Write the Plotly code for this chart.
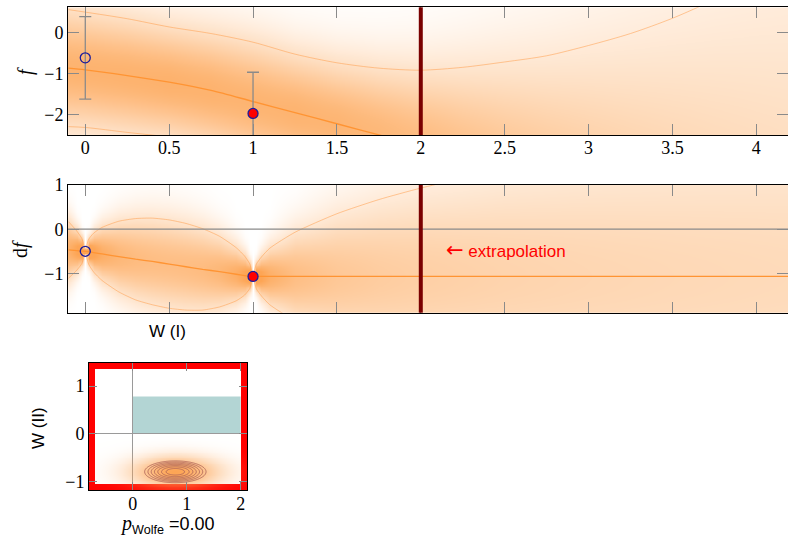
import numpy as np
import plotly.graph_objects as go

W, H = 788, 538

# ---------------- data ----------------
# observations of the line search
obs_t = [0.0, 1.0]
obs_f = [-0.62, -1.97]
obs_f_err = [1.0, 1.0]
obs_df = [-0.50, -1.07]
obs_fill = ["rgba(0,0,0,0)", "red"]
t_candidate = 2.0

# GP posterior on f
f_t = [-0.10, 0.00, 0.25, 0.50, 0.75, 1.00, 1.25, 1.50, 1.75, 2.00, 2.25,
       2.50, 2.75, 3.00, 3.25, 3.50, 3.75, 4.00, 4.20]
f_mean = [-0.87, -0.91, -1.05, -1.21, -1.41, -1.68, -1.95, -2.22, -2.49, -2.76,
          -3.03, -3.30, -3.57, -3.84, -4.11, -4.38, -4.65, -4.92, -5.14]
f_sd = [0.71, 0.70, 0.69, 0.67, 0.69, 0.72, 0.71, 0.74, 0.81, 0.92, 1.09,
        1.29, 1.50, 1.76, 2.04, 2.36, 2.72, 3.10, 3.42]

# GP posterior on df
df_t = [-0.10, -0.05, -0.02, 0.00, 0.02, 0.05, 0.10, 0.20, 0.30, 0.40, 0.50,
        0.60, 0.70, 0.80, 0.90, 0.95, 0.98, 1.00, 1.02, 1.05, 1.10, 1.25,
        1.50, 1.75, 2.00, 2.50, 3.00, 3.50, 4.00, 4.20]
df_mean = [-0.47, -0.485, -0.495, -0.50, -0.51, -0.53, -0.56, -0.62, -0.68,
           -0.73, -0.79, -0.85, -0.91, -0.96, -1.02, -1.05, -1.065, -1.07,
           -1.07, -1.07, -1.07, -1.07, -1.07, -1.07, -1.07, -1.07, -1.07,
           -1.07, -1.07, -1.07]
df_sd = [0.32, 0.22, 0.14, 0.02, 0.14, 0.22, 0.30, 0.40, 0.46, 0.49, 0.50,
         0.49, 0.46, 0.40, 0.30, 0.22, 0.14, 0.02, 0.14, 0.22, 0.32, 0.50,
         0.71, 0.87, 1.00, 1.22, 1.41, 1.58, 1.73, 1.79]

# Wolfe-condition panel
wolfe_a = [0.0, 2.0]          # box of accepted region (a)
wolfe_b = [0.0, 0.78]         # box of accepted region (b)
ab_mean = [0.79, -0.79]
ab_sd = [0.45, 0.18]
p_wolfe = 0.00

# ticks
t_ticks = [0, 0.5, 1, 1.5, 2, 2.5, 3, 3.5, 4]
t_ticktext = ["0", "0.5", "1", "1.5", "2", "2.5", "3", "3.5", "4"]
f_ticks = [-2, -1, 0]
f_ticktext = ["\u22122", "\u22121", "0"]
df_ticks = [-1, 0, 1]
df_ticktext = ["\u22121", "0", "1"]
a_ticks = [0, 1, 2]
a_ticktext = ["0", "1", "2"]
b_ticks = [-1, 0, 1]
b_ticktext = ["\u22121", "0", "1"]

# ---------------- styles ----------------
ORANGE = (253, 165, 85)
MEAN_C = "#ff9433"
BAND_C = "rgba(255,160,80,0.55)"
NAVY = "#1c1c9c"
TICK_C = "#8a8a8a"
SERIF = "Liberation Serif"
SANS = "Liberation Sans"


def px(x):
    return x / W


def py(y):
    return 1 - y / H


def density(mean, sd, ygrid, c, gamma=0.45):
    m = np.asarray(mean)[None, :]
    s = np.asarray(sd)[None, :]
    y = ygrid[:, None]
    d = c * np.exp(-0.5 * ((y - m) / s) ** 2) / s
    return np.clip(d, 0, 1) ** gamma


scale_opaque = [[0, "rgb(255,255,255)"], [1, "rgb(%d,%d,%d)" % ORANGE]]
scale_alpha = [[0, "rgba(%d,%d,%d,0)" % ORANGE], [1, "rgba(%d,%d,%d,1)" % ORANGE]]

fig = go.Figure()

# ---- top panel: f ----
yr1 = [-2.493, 0.607]
yg1 = np.linspace(yr1[0] - 0.1, yr1[1] + 0.1, 260)
fig.add_trace(go.Heatmap(x=f_t, y=yg1, z=density(f_mean, f_sd, yg1, 0.48),
                         colorscale=scale_opaque, zmin=0, zmax=1, zsmooth="best",
                         showscale=False, hoverinfo="skip", xaxis="x", yaxis="y"))
f_hi = np.array(f_mean) + 2 * np.array(f_sd)
f_lo = np.array(f_mean) - 2 * np.array(f_sd)
for yy, col, w in [(f_hi, BAND_C, 1), (f_lo, BAND_C, 1), (f_mean, MEAN_C, 1.3)]:
    fig.add_trace(go.Scatter(x=f_t, y=yy, mode="lines",
                             line=dict(color=col, width=w, shape="spline", smoothing=0.8),
                             hoverinfo="skip", xaxis="x", yaxis="y"))
fig.add_trace(go.Scatter(x=obs_t, y=obs_f, mode="markers",
                         error_y=dict(type="data", array=obs_f_err, color=TICK_C,
                                      thickness=1.3, width=6),
                         marker=dict(size=10, color=obs_fill, line=dict(color=NAVY, width=1.3)),
                         xaxis="x", yaxis="y"))

# ---- middle panel: df ----
yr2 = [-1.89, 1.0]
yg2 = np.linspace(yr2[0] - 0.1, yr2[1] + 0.1, 300)
fig.add_trace(go.Heatmap(x=df_t, y=yg2, z=density(df_mean, df_sd, yg2, 0.24),
                         colorscale=scale_opaque, zmin=0, zmax=1, zsmooth="best",
                         showscale=False, hoverinfo="skip", xaxis="x2", yaxis="y2"))
df_hi = np.array(df_mean) + 2 * np.array(df_sd)
df_lo = np.array(df_mean) - 2 * np.array(df_sd)
for yy, col, w in [(df_hi, BAND_C, 1), (df_lo, BAND_C, 1), (df_mean, MEAN_C, 1.3)]:
    fig.add_trace(go.Scatter(x=df_t, y=yy, mode="lines",
                             line=dict(color=col, width=w, shape="spline", smoothing=0.6),
                             hoverinfo="skip", xaxis="x2", yaxis="y2"))
fig.add_trace(go.Scatter(x=obs_t, y=obs_df, mode="markers",
                         marker=dict(size=10, color=obs_fill, line=dict(color=NAVY, width=1.3)),
                         xaxis="x2", yaxis="y2"))

# ---- bottom panel: Wolfe probability ----
xr3 = [-0.809, 2.117]
yr3 = [-1.17, 1.48]
ag = np.linspace(xr3[0], xr3[1], 160)
bg = np.linspace(yr3[0], yr3[1], 150)
AA, BB = np.meshgrid(ag, bg)
Zab = np.exp(-0.5 * ((AA - ab_mean[0]) / ab_sd[0]) ** 2 - 0.5 * ((BB - ab_mean[1]) / ab_sd[1]) ** 2)
fig.add_trace(go.Heatmap(x=ag, y=bg, z=Zab ** 0.6, colorscale=scale_alpha, zmin=0, zmax=1,
                         zsmooth="best", showscale=False, hoverinfo="skip",
                         xaxis="x3", yaxis="y3"))
fig.add_trace(go.Contour(x=ag, y=bg, z=Zab,
                         contours=dict(start=0.45, end=0.93, size=0.08, coloring="none"),
                         line=dict(color="rgba(170,95,85,0.8)", width=1, smoothing=1),
                         showscale=False, hoverinfo="skip", xaxis="x3", yaxis="y3"))

# ---- shapes ----
fig.add_shape(type="line", xref="x2 domain", yref="y2", x0=0, x1=1, y0=0, y1=0,
              line=dict(color="#8a8a8a", width=1.2), layer="above")
for xr, yr in [("x", "y domain"), ("x2", "y2 domain")]:
    fig.add_shape(type="line", xref=xr, yref=yr, x0=t_candidate, x1=t_candidate, y0=0, y1=1,
                  line=dict(color="#7a0000", width=4), layer="above")
fig.add_shape(type="rect", xref="x3", yref="y3", x0=wolfe_a[0], x1=wolfe_a[1],
              y0=wolfe_b[0], y1=wolfe_b[1], fillcolor="#b3d5d4", line=dict(width=0),
              layer="below")
fig.add_shape(type="rect", xref="x3 domain", yref="y3 domain", x0=3 / 158, x1=1 - 3 / 158,
              y0=3 / 127, y1=1 - 3 / 127, line=dict(color="red", width=6), layer="below")

# ---- axes ----
tickfont = dict(family=SERIF, size=18, color="black")
common = dict(ticks="inside", tickcolor=TICK_C, tickwidth=1.3, showline=True,
              linecolor="black", linewidth=1, mirror="ticks", showgrid=False,
              zeroline=False, tickfont=tickfont, fixedrange=True, automargin=False)

xr1 = [-0.103, 4.189]
layout_axes = dict(
    xaxis=dict(domain=[px(68), 1], range=xr1, anchor="y", tickvals=t_ticks,
               ticktext=t_ticktext, ticklen=11, ticklabelstandoff=-4, **common),
    yaxis=dict(domain=[py(135), py(7.3)], range=yr1, anchor="x", tickvals=f_ticks,
               ticktext=f_ticktext, ticklen=11, **common),
    xaxis2=dict(domain=[px(68), 1], range=xr1, anchor="y2", tickvals=t_ticks,
                showticklabels=False, ticklen=11, **common),
    yaxis2=dict(domain=[py(312.7), py(185)], range=yr2, anchor="x2", tickvals=df_ticks,
                ticktext=df_ticktext, ticklen=11, **common),
    xaxis3=dict(domain=[px(89), px(247)], range=xr3, anchor="y3", tickvals=a_ticks,
                ticktext=a_ticktext, ticklen=8, ticklabelstandoff=-3, **common),
    yaxis3=dict(domain=[py(490), py(363)], range=yr3, anchor="x3", tickvals=b_ticks,
                ticktext=b_ticktext, ticklen=8, **common),
)
layout_axes["xaxis3"]["zeroline"] = True
layout_axes["yaxis3"]["zeroline"] = True
for k in ("xaxis3", "yaxis3"):
    layout_axes[k]["zerolinecolor"] = "#9a9a9a"
    layout_axes[k]["zerolinewidth"] = 1.2

annotations = [
    dict(text="<i>f</i>", x=px(25), y=py(71), textangle=-90,
         font=dict(family=SERIF, size=20, color="black")),
    dict(text="d<i>f</i>", x=px(20), y=py(249), textangle=-90,
         font=dict(family=SERIF, size=20, color="black")),
    dict(text="W (I)", x=px(167), y=py(331.5),
         font=dict(family=SANS, size=17, color="black")),
    dict(text="W (II)", x=px(38), y=py(428), textangle=-90,
         font=dict(family=SANS, size=17, color="black")),
    dict(text="<span style='font-family:DejaVu Sans;font-size:21px'>\u2190</span> extrapolation",
         x=px(444), y=py(250), xanchor="left",
         font=dict(family=SANS, size=17, color="red")),
    dict(text="<span style='font-family:%s;font-style:italic;font-size:20px'>p</span>"
              "<sub>Wolfe</sub> =%.2f" % (SERIF, p_wolfe),
         x=px(167), y=py(524), font=dict(family=SANS, size=18, color="black")),
]
for a in annotations:
    a.update(xref="paper", yref="paper", showarrow=False)
    a.setdefault("xanchor", "center")
    a.setdefault("yanchor", "middle")

fig.update_layout(template="none", width=W, height=H, margin=dict(l=0, r=0, t=0, b=0, pad=0),
                  paper_bgcolor="white", plot_bgcolor="white", showlegend=False,
                  annotations=annotations, **layout_axes)

post = ("document.documentElement.style.margin='0';document.body.style.margin='0';"
        "document.body.style.overflow='hidden';"
        "var d=document.getElementById('{plot_id}');d.style.position='absolute';"
        "d.style.left='0px';d.style.top='0px';")
fig.write_html("out.html", post_script=post, config={"displayModeBar": False})
